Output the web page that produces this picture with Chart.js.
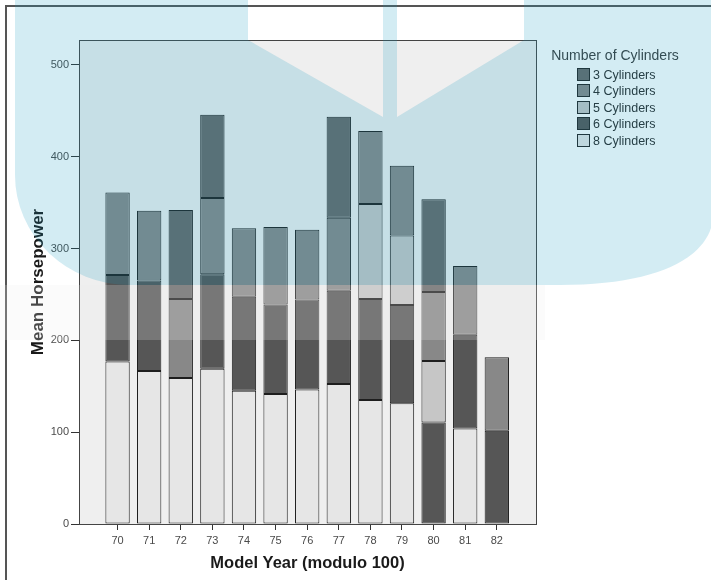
<!DOCTYPE html>
<html>
<head>
<meta charset="utf-8">
<script src="https://cdn.jsdelivr.net/npm/chart.js@4.4.1/dist/chart.umd.min.js"></script>
<style>
  html, body { margin: 0; padding: 0; background: #fff; }
  #wrap { position: relative; width: 711px; height: 580px; overflow: hidden; font-family: "Liberation Sans", Arial, sans-serif; background: #fff; }
  #chart { position: absolute; left: 0; top: 0; }
  #frame { position: absolute; left: 5px; top: 5px; width: 800px; height: 700px; border-left: 2px solid #555; border-top: 2px solid #555; }
  #legend { position: absolute; left: 0; top: 0; width: 711px; height: 200px; }
  #legend .ttl { position: absolute; left: 545px; top: 47px; width: 140px; text-align: center; font-size: 14px; line-height: 16px; color: #3a3a3a; }
  #legend .item { position: absolute; left: 577px; height: 14px; line-height: 14px; font-size: 12.5px; color: #2a2a2a; white-space: nowrap; }
  #legend .sw { display: inline-block; width: 11px; height: 11px; border: 1px solid #222; vertical-align: top; margin: 0 3px 0 0; }
  .wm { position: absolute; left: 0; top: 0; pointer-events: none; }
</style>
</head>
<body>
<div id="wrap">
  <canvas id="chart" width="711" height="580"></canvas>
  <div id="frame"></div>
  <div id="legend"></div>
  <svg class="wm" width="711" height="580" viewBox="0 0 711 580">
    <path d="M15,0 L248,0 L248,40 L383,117 L383,0 L397,0 L397,117 L524,40 L524,0 L711,0 L711,228
             C700,262 650,285 560,285 L130,285 A115,110 0 0 1 15,175 Z"
          fill="rgba(22,156,192,0.19)"></path>
    <rect x="0" y="285" width="545" height="55" fill="rgba(235,235,235,0.22)"></rect>
  </svg>
</div>
<script>
// data
const years = [70, 71, 72, 73, 74, 75, 76, 77, 78, 79, 80, 81, 82];
const yTicks = [0, 100, 200, 300, 400, 500];
const seriesNames = ["3 Cylinders", "4 Cylinders", "5 Cylinders", "6 Cylinders", "8 Cylinders"];

// mean horsepower per year (null = no cars of that kind that year)
const cyl3 = [null, null, 97, 90.5, null, null, null, 110, null, null, 101, null, null];
const cyl4 = [90, 76, 86, 83, 74.5, 84.5, 76, 79.5, 79.5, 76, 75, 75, 80];
const cyl5 = [null, null, null, null, null, null, null, null, 103.5, 75.5, 67, null, null];
const cyl6 = [94, 98.5, null, 103, 102.5, 97.5, 98, 101.5, 110, 107, 110.5, 102, 101.5];
const cyl8 = [177, 166.5, 159, 169, 145, 141.5, 146.5, 152.5, 135, 131.5, null, 104, null];

// styles
const fills = {
  "3 Cylinders": "#686868",
  "4 Cylinders": "#888888",
  "5 Cylinders": "#c6c6c6",
  "6 Cylinders": "#565656",
  "8 Cylinders": "#e6e6e6"
};

// stacking order, bottom first
const stackOrder = [
  ["8 Cylinders", cyl8],
  ["6 Cylinders", cyl6],
  ["5 Cylinders", cyl5],
  ["4 Cylinders", cyl4],
  ["3 Cylinders", cyl3]
];

function toPoints(vals) {
  const out = [];
  years.forEach((yr, i) => {
    if (vals[i] !== null) out.push({ x: yr, y: vals[i] });
  });
  return out;
}

const datasets = stackOrder.map(([name, vals]) => ({
  label: name,
  data: toPoints(vals),
  backgroundColor: fills[name],
  borderColor: "#1e1e1e",
  borderWidth: 1,
  borderSkipped: false,
  categoryPercentage: 1,
  barPercentage: 0.77
}));

// plot background + frame
const plotFrame = {
  id: "plotFrame",
  beforeDraw(chart) {
    const { ctx, chartArea: a } = chart;
    ctx.save();
    ctx.fillStyle = "#fff";
    ctx.fillRect(0, 0, chart.width, chart.height);
    ctx.fillStyle = "#efefef";
    ctx.fillRect(a.left, a.top, a.right - a.left, a.bottom - a.top);
    ctx.restore();
  },
  afterDatasetsDraw(chart) {
    const { ctx, chartArea: a } = chart;
    ctx.save();
    ctx.strokeStyle = "#444";
    ctx.lineWidth = 1;
    ctx.strokeRect(Math.round(a.left) + 0.5, Math.round(a.top) + 0.5,
      Math.round(a.right - a.left), Math.round(a.bottom - a.top));
    ctx.restore();
  }
};

new Chart(document.getElementById("chart"), {
  type: "bar",
  data: { datasets },
  options: {
    responsive: false,
    animation: false,
    layout: { padding: { top: 40, right: 175, left: 0, bottom: 0 } },
    plugins: { legend: { display: false }, tooltip: { enabled: false } },
    scales: {
      x: {
        type: "linear",
        stacked: true,
        offset: false,
        min: 68.78,
        max: 83.24,
        afterBuildTicks: (s) => { s.ticks = years.map(v => ({ value: v })); },
        afterFit: (s) => { s.height = 56; },
        grid: { offset: false, drawOnChartArea: false, drawTicks: true, tickLength: 6, color: "#333" },
        border: { display: false },
        ticks: { font: { family: "Liberation Sans", size: 11 }, color: "#4a4a4a", padding: 4, maxRotation: 0, callback: (v) => String(v) },
        title: { display: true, text: "Model Year (modulo 100)", color: "#1a1a1a",
          font: { family: "Liberation Sans", size: 16.5, weight: "bold" }, padding: { top: 0, bottom: 7 } }
      },
      y: {
        stacked: true,
        min: 0,
        max: 527,
        afterBuildTicks: (s) => { s.ticks = yTicks.map(v => ({ value: v })); },
        afterFit: (s) => { s.width = 79; },
        grid: { drawOnChartArea: false, drawTicks: true, tickLength: 8, color: "#333" },
        border: { display: false },
        ticks: { font: { family: "Liberation Sans", size: 11 }, color: "#4a4a4a", padding: 2 },
        title: { display: true, text: "Mean Horsepower", color: "#1a1a1a",
          font: { family: "Liberation Sans", size: 17, weight: "bold" }, padding: { top: 28, bottom: 0 } }
      }
    }
  },
  plugins: [plotFrame]
});

// legend
const legend = document.getElementById("legend");
const ttl = document.createElement("div");
ttl.className = "ttl";
ttl.textContent = "Number of Cylinders";
legend.appendChild(ttl);
seriesNames.forEach((name, i) => {
  const it = document.createElement("div");
  it.className = "item";
  it.style.top = (68 + i * 16.4) + "px";
  it.innerHTML = '<span class="sw" style="background:' + fills[name] + '"></span>' + name;
  legend.appendChild(it);
});
</script>
</body>
</html>
